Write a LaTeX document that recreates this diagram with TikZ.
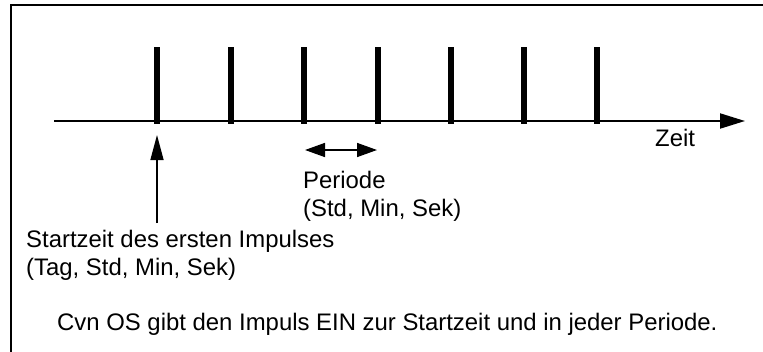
\documentclass[tikz,border=0pt]{standalone}
\usepackage{fontspec}
\setmainfont{Liberation Sans}
\usetikzlibrary{arrows.meta}
\tikzset{
  lbl/.style={anchor=base west, inner sep=0pt, font=\fontsize{23.9}{27}\selectfont},
  pulse/.style={line width=6pt},
  axis/.style={line width=2pt, -{Triangle[length=25pt,width=15pt]}},
  marker/.style={line width=1.5pt, -{Triangle[length=25pt,width=13pt]}},
  span/.style={line width=1.5pt, {Triangle[length=20pt,width=14pt]}-{Triangle[length=20pt,width=14pt]}},
}
\begin{document}
\begin{tikzpicture}[x=1pt,y=-1pt]
\useasboundingbox (0,0) rectangle (763,351);
\clip (0,0) rectangle (763,351);
\fill[white] (0,0) rectangle (763,351);
\draw[line width=2pt] (11,360) -- (11,4.5) -- (775,4.5);
% axis
\coordinate (a0) at (54,121);
\coordinate (a1) at (745,121);
\draw[axis] (a0) -- (a1);
% pulses
\foreach \i/\x in {1/157,2/231,3/304,4/378,5/451,6/524,7/597}{
  \coordinate (t\i) at (\x,47);
  \coordinate (b\i) at (\x,124);
  \draw[pulse] (t\i) -- (b\i);
}
% start marker
\coordinate (s0) at (157,223);
\coordinate (s1) at (157,135);
\draw[marker] (s0) -- (s1);
% period
\coordinate (p0) at (305,150);
\coordinate (p1) at (377,150);
\draw[span] (p0) -- (p1);
% labels
\node[lbl] (zeit) at (655,146) {Zeit};
\node[lbl] (per1) at (303,188) {Periode};
\node[lbl] (per2) at (303,216) {(Std, Min, Sek)};
\node[lbl] (st1) at (26,247) {Startzeit des ersten Impulses};
\node[lbl] (st2) at (26,275) {(Tag, Std, Min, Sek)};
\node[lbl] (note) at (57,330) {Cvn OS gibt den Impuls EIN zur Startzeit und in jeder Periode.};
\end{tikzpicture}
\end{document}
